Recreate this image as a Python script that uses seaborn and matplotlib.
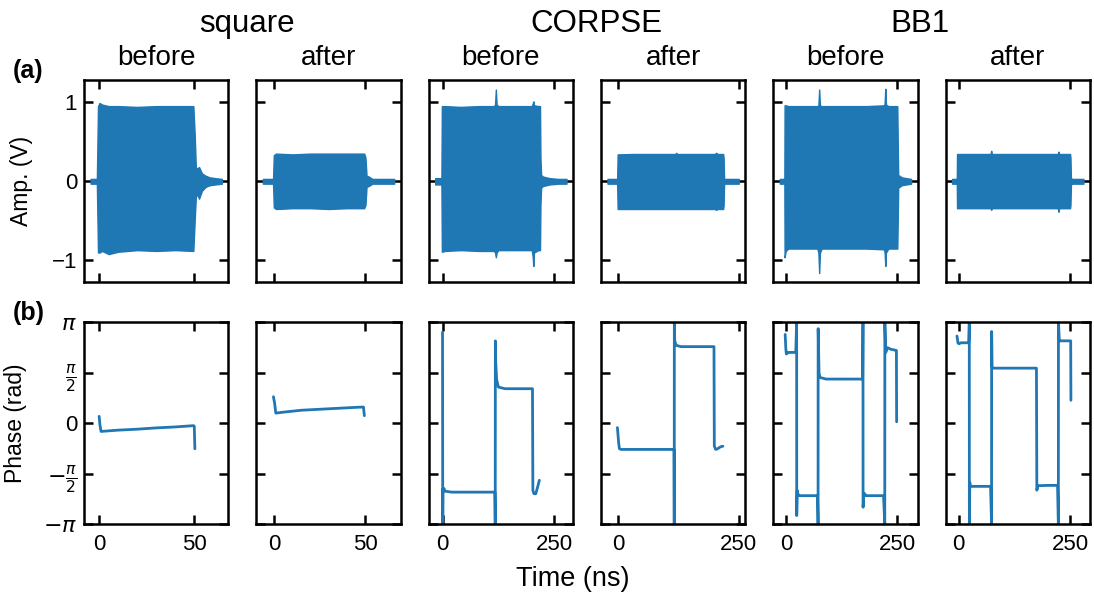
import matplotlib
matplotlib.use("Agg")
import matplotlib.pyplot as plt
import seaborn as sns
import numpy as np

# ---------------- data ----------------
# Amplitude envelopes (V) of the dense oscillating traces
sq_b_t  = [-4.5, -1.2, -0.6, 0.2, 1.5, 5, 10, 20, 30, 40, 49.5, 50.2, 50.8, 51.5, 52.5, 54, 56, 58, 61, 64.5]
sq_b_up = [0.03, 0.03, 0.95, 0.99, 0.97, 0.95, 0.95, 0.94, 0.95, 0.95, 0.95, 0.6, 0.18, 0.16, 0.18, 0.10, 0.07, 0.05, 0.04, 0.03]
sq_b_lo = [-0.03, -0.03, -0.9, -0.9, -0.88, -0.92, -0.89, -0.87, -0.88, -0.87, -0.88, -0.5, -0.2, -0.16, -0.22, -0.12, -0.07, -0.05, -0.04, -0.03]

sq_a_t  = [-6.2, -0.6, -0.2, 1, 10, 20, 30, 40, 49.5, 50.2, 50.8, 52, 54, 58, 66]
sq_a_up = [0.03, 0.03, 0.33, 0.35, 0.34, 0.35, 0.35, 0.35, 0.35, 0.3, 0.07, 0.06, 0.03, 0.03, 0.03]
sq_a_lo = [-0.03, -0.03, -0.33, -0.35, -0.34, -0.34, -0.35, -0.34, -0.34, -0.3, -0.07, -0.06, -0.03, -0.03, -0.03]

co_b_t  = [-17, -4.5, -3, -2, 5, 40, 80, 115, 117.5, 119.3, 121, 125, 160, 200, 202, 203.5, 205, 215, 218.5, 219.5, 221, 225, 240, 260, 278]
co_b_up = [0.04, 0.04, 0.04, 0.95, 0.95, 0.94, 0.95, 0.95, 0.97, 1.16, 0.97, 0.95, 0.95, 0.95, 0.98, 1.01, 0.96, 0.95, 0.95, 0.3, 0.08, 0.06, 0.04, 0.03, 0.03]
co_b_lo = [-0.04, -0.04, -0.04, -0.89, -0.88, -0.87, -0.88, -0.88, -0.9, -0.96, -0.9, -0.87, -0.87, -0.87, -0.95, -1.07, -0.9, -0.87, -0.87, -0.3, -0.08, -0.06, -0.04, -0.03, -0.03]

co_a_t  = [-22.6, -3.5, -2.5, -1.5, 30, 60, 100, 118, 120, 122, 160, 200, 203, 206, 217.5, 218.5, 219.5, 222, 250]
co_a_up = [0.03, 0.03, 0.03, 0.34, 0.345, 0.345, 0.345, 0.345, 0.36, 0.345, 0.345, 0.345, 0.36, 0.345, 0.345, 0.3, 0.03, 0.03, 0.03]
co_a_lo = [-0.03, -0.03, -0.03, -0.35, -0.35, -0.35, -0.35, -0.35, -0.35, -0.35, -0.35, -0.35, -0.36, -0.35, -0.35, -0.3, -0.03, -0.03, -0.03]

bb_b_t  = [-14.3, -5, -4, -3.5, -1, 5, 40, 70, 72.5, 74.3, 76, 80, 120, 180, 220, 221.5, 223, 224.5, 230, 250, 251, 252, 255, 260, 270, 281]
bb_b_up = [0.03, 0.03, 0.03, 0.96, 0.96, 0.95, 0.95, 0.95, 0.96, 1.16, 0.96, 0.95, 0.95, 0.95, 0.96, 0.98, 1.17, 0.97, 0.95, 0.95, 0.5, 0.08, 0.07, 0.05, 0.04, 0.03]
bb_b_lo = [-0.03, -0.03, -0.03, -0.96, -0.88, -0.85, -0.85, -0.85, -0.9, -1.16, -0.9, -0.85, -0.85, -0.85, -0.86, -0.9, -1.07, -0.9, -0.85, -0.85, -0.5, -0.08, -0.07, -0.05, -0.04, -0.03]

bb_a_t  = [-14.8, -5, -4.2, -3.7, 20, 60, 71.5, 73, 74.5, 120, 180, 222.5, 224, 225.5, 250, 251, 252, 255, 280]
bb_a_up = [0.03, 0.03, 0.03, 0.345, 0.345, 0.345, 0.345, 0.385, 0.345, 0.345, 0.345, 0.345, 0.375, 0.345, 0.345, 0.3, 0.04, 0.03, 0.03]
bb_a_lo = [-0.03, -0.03, -0.03, -0.34, -0.34, -0.34, -0.34, -0.36, -0.34, -0.34, -0.34, -0.34, -0.385, -0.34, -0.34, -0.3, -0.04, -0.03, -0.03]

# Phase traces (rad)
sq_b_pt = [0.0, 0.4, 1.0, 10, 20, 30, 40, 49.6, 50.0, 50.3]
sq_b_ph = [0.21, -0.05, -0.26, -0.22, -0.19, -0.15, -0.12, -0.08, -0.10, -0.80]

sq_a_pt = [-0.4, 0.3, 0.9, 5, 15, 25, 35, 45, 49.1, 49.6]
sq_a_ph = [0.82, 0.6, 0.31, 0.34, 0.40, 0.43, 0.46, 0.49, 0.50, 0.23]

co_b_pt = [-0.5, 0.0, 0.5, 3, 5, 20, 60, 100, 117, 117.9, 118.2, 119, 121, 125, 140, 170, 201.6, 202.5, 205, 209, 213, 217]
co_b_ph = [2.83, -3.14, -2.05, -2.04, -2.12, -2.15, -2.15, -2.15, -2.15, -3.14, 2.56, 1.9, 1.36, 1.12, 1.07, 1.07, 1.07, -2.1, -2.2, -2.2, -2.0, -1.78]

co_a_pt = [-2, 0.5, 2, 5, 30, 70, 115.5, 116, 116.2, 117, 120, 130, 170, 198.5, 199.2, 202, 206, 212, 217]
co_a_ph = [-0.14, -0.6, -0.79, -0.82, -0.82, -0.82, -0.82, -3.14, 3.14, 2.56, 2.42, 2.38, 2.38, 2.38, -0.72, -0.82, -0.80, -0.74, -0.72]

bb_b_pt = [-2.2, -0.7, 0.5, 5, 15, 21.6, 23.6, 23.8, 25, 26, 30, 50, 70.6, 71.8, 72.0, 74, 76, 90, 130, 172,
           172.8, 173.0, 175, 180, 200, 219, 221.8, 222.0, 224, 228, 235, 245, 248, 248.5]
bb_b_ph = [2.76, 2.31, 2.15, 2.2, 2.2, 2.2, 3.14, -2.88, -2.1, -2.2, -2.26, -2.26, -2.26, -3.14, 2.94, 1.56, 1.42, 1.37, 1.37, 1.37,
           3.14, -2.62, -2.18, -2.26, -2.26, -2.26, -3.14, 3.14, 2.2, 2.35, 2.3, 2.27, 2.26, 0.04]

bb_a_pt = [-3.8, -1.5, 0.9, 5, 15, 22.6, 23.8, 24.0, 25, 26, 30, 50, 71.6, 73.8, 74.0, 75, 78, 100, 140, 174.6,
           175.5, 178, 200, 222, 223.8, 224.0, 226, 230, 240, 251.5, 252]
bb_a_ph = [2.71, 2.49, 2.47, 2.5, 2.5, 2.5, 3.14, -3.14, -1.85, -1.97, -1.97, -1.97, -1.97, -3.14, 2.85, 1.75, 1.71, 1.71, 1.71, 1.71,
           -2.09, -1.95, -1.94, -1.94, -3.14, 3.14, 2.56, 2.56, 2.56, 2.56, 0.71]

group_titles = ["square", "CORPSE", "BB1"]
col_titles = ["before", "after"] * 3
amp_ticks = [-1, 0, 1]
phase_ticks = [-np.pi, -np.pi / 2, 0, np.pi / 2, np.pi]
phase_ticklabels = [r"$-\pi$", r"$-\frac{\pi}{2}$", "0", r"$\frac{\pi}{2}$", r"$\pi$"]
x_ticks = [[0, 50], [0, 50], [0, 250], [0, 250], [0, 250], [0, 250]]

amp_panels = [(sq_b_t, sq_b_up, sq_b_lo), (sq_a_t, sq_a_up, sq_a_lo),
              (co_b_t, co_b_up, co_b_lo), (co_a_t, co_a_up, co_a_lo),
              (bb_b_t, bb_b_up, bb_b_lo), (bb_a_t, bb_a_up, bb_a_lo)]
phase_panels = [(sq_b_pt, sq_b_ph), (sq_a_pt, sq_a_ph), (co_b_pt, co_b_ph),
                (co_a_pt, co_a_ph), (bb_b_pt, bb_b_ph), (bb_a_pt, bb_a_ph)]

# ---------------- style ----------------
sns.set_theme(style="ticks")
plt.rcParams.update({
    "font.family": ["Liberation Sans", "DejaVu Sans"],
    "mathtext.fontset": "dejavusans",
    "xtick.direction": "in", "ytick.direction": "in",
    "xtick.top": True, "ytick.right": True,
    "xtick.major.size": 6.5, "ytick.major.size": 6.5,
    "xtick.major.width": 1.8, "ytick.major.width": 1.8,
    "axes.linewidth": 1.8,
    "axes.edgecolor": "black", "xtick.color": "black", "ytick.color": "black",
    "text.color": "black", "axes.labelcolor": "black",
    "xtick.labelsize": 16, "ytick.labelsize": 16,
    "xtick.major.pad": 7, "ytick.major.pad": 5,
})
color = "#1f77b4"

fig, axes = plt.subplots(2, 6, figsize=(10.94, 5.97), dpi=100, sharex="col")
fig.subplots_adjust(left=0.0768, right=0.9963, top=0.866, bottom=0.1223,
                    wspace=0.193, hspace=0.2)

for j in range(6):
    ax = axes[0, j]
    t, up, lo = amp_panels[j]
    ax.fill_between(t, lo, up, color=color, lw=1.0, edgecolor=color)
    ax.set_ylim(-1.27, 1.28)
    ax.set_yticks(amp_ticks)
    ax.set_title(col_titles[j], fontsize=20, pad=10.8)

    axp = axes[1, j]
    pt, ph = phase_panels[j]
    sns.lineplot(x=pt, y=ph, ax=axp, sort=False, estimator=None, color=color, lw=2.0)
    axp.set_ylim(-np.pi, np.pi)
    axp.set_yticks(phase_ticks)
    axp.set_yticklabels(phase_ticklabels)
    axp.set_xticks(x_ticks[j])

    for a in (ax, axp):
        a.tick_params(which="both", top=True, right=True, direction="in")
        if j > 0:
            a.tick_params(labelleft=False)
        a.set_xlabel("")
        a.set_ylabel("")

axes[0, 0].set_yticklabels(["\u22121", "0", "1"])
axes[0, 0].set_ylabel("Amp. (V)", fontsize=16.5)
axes[0, 0].yaxis.set_label_coords(-0.353, 0.5)
axes[1, 0].set_ylabel("Phase (rad)", fontsize=16.5)
axes[1, 0].yaxis.set_label_coords(-0.397, 0.5)

W, H = 1094, 597
for name, xc in zip(group_titles, [246.5, 596.7, 920]):
    fig.text(xc / W, 1 - 31.7 / H, name, ha="center", va="baseline", fontsize=22.5)
fig.text(572.5 / W, 1 - 586 / H, "Time (ns)", ha="center", va="baseline", fontsize=19.5)
fig.text(13 / W, 1 - 71 / H, "(a)", ha="left", va="center", fontsize=18, fontweight="bold")
fig.text(13 / W, 1 - 313 / H, "(b)", ha="left", va="center", fontsize=18, fontweight="bold")

fig.savefig("out.png", dpi=100)
